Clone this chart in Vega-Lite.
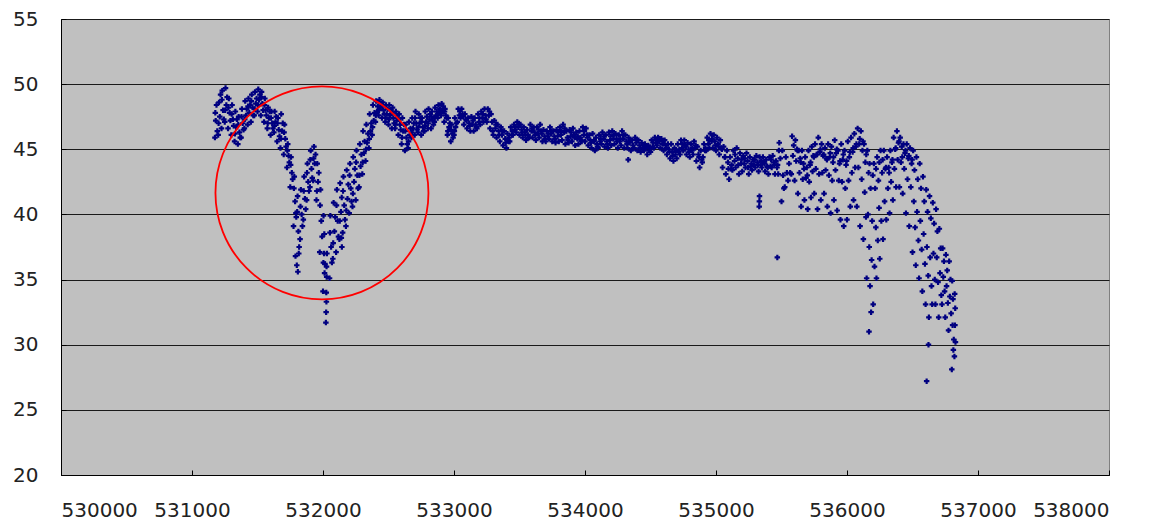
{
"$schema":"https://vega.github.io/schema/vega-lite/v6.json",
"autosize":{"type":"none"},
"padding":{"left":61,"top":19,"right":48,"bottom":48},
"width":1048,
"height":456,
"background":"#ffffff",
"config":{"view":{"fill":"#C0C0C0","stroke":"#808080","strokeWidth":1},
"axis":{"labelFont":"DejaVu Sans","labelFontSize":20,"labelColor":"#222222","domainColor":"#000000","domainWidth":1,"tickColor":"#000000","title":null}},
"datasets":{"pts":[
{"x":531175,"y":45.9},{"x":531181,"y":47.2},{"x":531187,"y":48.4},{"x":531193,"y":46.4},
{"x":531200,"y":46.1},{"x":531206,"y":48.6},{"x":531212,"y":47.5},{"x":531218,"y":49.2},
{"x":531225,"y":46.6},{"x":531231,"y":49.5},{"x":531237,"y":48.0},{"x":531243,"y":47.3},
{"x":531250,"y":47.1},{"x":531256,"y":49.7},{"x":531262,"y":48.4},{"x":531268,"y":49.0},
{"x":531275,"y":46.6},{"x":531281,"y":48.9},{"x":531287,"y":47.8},{"x":531293,"y":47.2},
{"x":531300,"y":46.1},{"x":531306,"y":48.4},{"x":531312,"y":47.3},{"x":531318,"y":46.8},
{"x":531325,"y":45.6},{"x":531331,"y":47.9},{"x":531337,"y":46.7},{"x":531343,"y":47.3},
{"x":531350,"y":45.4},{"x":531356,"y":47.5},{"x":531362,"y":46.3},{"x":531368,"y":45.9},
{"x":531375,"y":45.9},{"x":531381,"y":48.1},{"x":531387,"y":47.0},{"x":531393,"y":46.5},
{"x":531400,"y":46.6},{"x":531406,"y":48.7},{"x":531412,"y":47.6},{"x":531418,"y":48.1},
{"x":531425,"y":46.9},{"x":531431,"y":48.9},{"x":531437,"y":47.8},{"x":531443,"y":48.4},
{"x":531450,"y":47.1},{"x":531456,"y":49.2},{"x":531462,"y":48.2},{"x":531468,"y":47.6},
{"x":531475,"y":47.6},{"x":531481,"y":49.4},{"x":531487,"y":48.5},{"x":531493,"y":48.9},
{"x":531500,"y":47.9},{"x":531506,"y":49.6},{"x":531512,"y":48.8},{"x":531518,"y":49.2},
{"x":531525,"y":47.6},{"x":531531,"y":49.4},{"x":531537,"y":48.5},{"x":531543,"y":48.0},
{"x":531550,"y":47.1},{"x":531556,"y":48.9},{"x":531562,"y":48.0},{"x":531568,"y":47.6},
{"x":531575,"y":46.6},{"x":531581,"y":48.2},{"x":531587,"y":47.4},{"x":531593,"y":47.9},
{"x":531600,"y":46.1},{"x":531606,"y":47.9},{"x":531612,"y":47.0},{"x":531618,"y":46.6},
{"x":531625,"y":46.3},{"x":531631,"y":47.9},{"x":531637,"y":47.1},{"x":531643,"y":47.5},
{"x":531650,"y":45.6},{"x":531656,"y":47.4},{"x":531662,"y":46.5},{"x":531668,"y":46.0},
{"x":531675,"y":45.1},{"x":531681,"y":47.7},{"x":531687,"y":46.4},{"x":531693,"y":47.0},
{"x":531700,"y":44.6},{"x":531706,"y":46.9},{"x":531712,"y":45.8},{"x":531718,"y":45.2},
{"x":531725,"y":43.6},{"x":531731,"y":45.4},{"x":531737,"y":44.5},{"x":531743,"y":44.0},
{"x":531750,"y":42.1},{"x":531756,"y":44.4},{"x":531762,"y":43.2},{"x":531768,"y":42.7},
{"x":531775,"y":39.1},{"x":531781,"y":42.9},{"x":531787,"y":41.0},{"x":531793,"y":40.1},
{"x":531800,"y":36.1},{"x":531806,"y":41.4},{"x":531812,"y":38.7},{"x":531818,"y":37.5},
{"x":531790,"y":36.8},{"x":531796,"y":39.8},{"x":531808,"y":35.6},{"x":531815,"y":37.0},
{"x":531825,"y":38.1},{"x":531831,"y":41.9},{"x":531837,"y":40.0},{"x":531843,"y":39.1},
{"x":531850,"y":39.6},{"x":531856,"y":42.9},{"x":531862,"y":41.2},{"x":531868,"y":40.4},
{"x":531875,"y":41.1},{"x":531881,"y":43.9},{"x":531887,"y":42.5},{"x":531893,"y":41.8},
{"x":531900,"y":42.1},{"x":531906,"y":44.9},{"x":531912,"y":43.5},{"x":531918,"y":42.8},
{"x":531925,"y":42.6},{"x":531931,"y":45.2},{"x":531937,"y":43.9},{"x":531943,"y":44.6},
{"x":531950,"y":41.1},{"x":531956,"y":43.9},{"x":531962,"y":42.5},{"x":531968,"y":43.2},
{"x":531975,"y":37.1},{"x":531981,"y":41.9},{"x":531987,"y":39.5},{"x":531993,"y":38.3},
{"x":532000,"y":34.1},{"x":532004,"y":39.9},{"x":532008,"y":37.0},{"x":532012,"y":35.5},{"x":532010,"y":38.5},{"x":532015,"y":36.2},
{"x":532022,"y":31.7},{"x":532024,"y":32.5},{"x":532026,"y":33.3},{"x":532025,"y":34.0},{"x":532028,"y":35.2},{"x":532027,"y":36.0},{"x":532030,"y":37.0},
{"x":532050,"y":35.1},{"x":532056,"y":39.9},{"x":532062,"y":37.5},{"x":532068,"y":36.3},
{"x":532075,"y":36.6},{"x":532081,"y":40.9},{"x":532087,"y":38.7},{"x":532093,"y":39.8},
{"x":532100,"y":37.1},{"x":532106,"y":41.9},{"x":532112,"y":39.5},{"x":532118,"y":38.3},
{"x":532140,"y":38.2},{"x":532144,"y":37.5},
{"x":532125,"y":38.1},{"x":532131,"y":42.4},{"x":532137,"y":40.2},{"x":532143,"y":41.3},
{"x":532150,"y":38.6},{"x":532156,"y":42.9},{"x":532162,"y":40.7},{"x":532168,"y":39.6},
{"x":532175,"y":39.1},{"x":532181,"y":43.4},{"x":532187,"y":41.2},{"x":532193,"y":42.3},
{"x":532200,"y":40.1},{"x":532206,"y":43.9},{"x":532212,"y":42.0},{"x":532218,"y":41.0},
{"x":532225,"y":40.6},{"x":532231,"y":44.4},{"x":532237,"y":42.5},{"x":532243,"y":43.5},
{"x":532250,"y":41.1},{"x":532256,"y":44.9},{"x":532262,"y":43.0},{"x":532268,"y":42.0},
{"x":532275,"y":42.1},{"x":532281,"y":45.4},{"x":532287,"y":43.7},{"x":532293,"y":44.6},
{"x":532300,"y":43.1},{"x":532306,"y":46.4},{"x":532312,"y":44.7},{"x":532318,"y":45.6},
{"x":532325,"y":44.1},{"x":532331,"y":46.9},{"x":532337,"y":45.5},{"x":532343,"y":46.2},
{"x":532350,"y":45.1},{"x":532356,"y":47.7},{"x":532362,"y":46.4},{"x":532368,"y":47.0},
{"x":532375,"y":46.1},{"x":532381,"y":48.4},{"x":532387,"y":47.2},{"x":532393,"y":47.8},
{"x":532400,"y":47.1},{"x":532406,"y":48.7},{"x":532412,"y":47.9},{"x":532418,"y":48.3},
{"x":532425,"y":47.6},{"x":532431,"y":48.8},{"x":532437,"y":48.2},{"x":532443,"y":48.5},
{"x":532450,"y":47.4},{"x":532456,"y":48.6},{"x":532462,"y":48.0},{"x":532468,"y":47.7},
{"x":532475,"y":47.1},{"x":532481,"y":48.4},{"x":532487,"y":47.7},{"x":532493,"y":48.1},
{"x":532500,"y":46.9},{"x":532506,"y":48.4},{"x":532512,"y":47.6},{"x":532518,"y":48.0},
{"x":532525,"y":46.6},{"x":532531,"y":48.2},{"x":532537,"y":47.4},{"x":532543,"y":47.0},
{"x":532550,"y":46.6},{"x":532556,"y":47.9},{"x":532562,"y":47.2},{"x":532568,"y":47.6},
{"x":532575,"y":46.1},{"x":532581,"y":47.7},{"x":532587,"y":46.9},{"x":532593,"y":46.5},
{"x":532600,"y":45.4},{"x":532606,"y":47.4},{"x":532612,"y":46.4},{"x":532618,"y":46.9},
{"x":532625,"y":44.9},{"x":532631,"y":46.9},{"x":532637,"y":45.9},{"x":532643,"y":45.4},
{"x":532650,"y":45.1},{"x":532656,"y":47.1},{"x":532662,"y":46.1},{"x":532668,"y":46.6},
{"x":532675,"y":45.9},{"x":532681,"y":47.4},{"x":532687,"y":46.6},{"x":532693,"y":47.0},
{"x":532700,"y":46.1},{"x":532706,"y":47.9},{"x":532712,"y":47.0},{"x":532718,"y":46.5},
{"x":532725,"y":46.3},{"x":532731,"y":47.7},{"x":532737,"y":47.0},{"x":532743,"y":47.4},
{"x":532750,"y":46.1},{"x":532756,"y":47.4},{"x":532762,"y":46.7},{"x":532768,"y":46.4},
{"x":532775,"y":46.4},{"x":532781,"y":47.9},{"x":532787,"y":47.1},{"x":532793,"y":47.5},
{"x":532800,"y":46.6},{"x":532806,"y":48.1},{"x":532812,"y":47.3},{"x":532818,"y":47.7},
{"x":532825,"y":46.6},{"x":532831,"y":47.9},{"x":532837,"y":47.2},{"x":532843,"y":46.9},
{"x":532850,"y":47.1},{"x":532856,"y":48.2},{"x":532862,"y":47.6},{"x":532868,"y":47.9},
{"x":532875,"y":47.4},{"x":532881,"y":48.4},{"x":532887,"y":47.9},{"x":532893,"y":48.1},
{"x":532900,"y":47.6},{"x":532906,"y":48.5},{"x":532912,"y":48.0},{"x":532918,"y":48.3},
{"x":532925,"y":47.1},{"x":532931,"y":48.1},{"x":532937,"y":47.6},{"x":532943,"y":47.4},
{"x":532950,"y":46.1},{"x":532956,"y":47.4},{"x":532962,"y":46.7},{"x":532968,"y":47.0},
{"x":532975,"y":45.6},{"x":532981,"y":46.9},{"x":532987,"y":46.2},{"x":532993,"y":45.9},
{"x":533000,"y":46.1},{"x":533006,"y":47.4},{"x":533012,"y":46.7},{"x":533018,"y":47.0},
{"x":531178,"y":47.8},{"x":531203,"y":47.0},{"x":531228,"y":48.8},{"x":531253,"y":48.0},{"x":531278,"y":48.2},{"x":531303,"y":47.7},{"x":531328,"y":46.2},{"x":531353,"y":46.9},{"x":531378,"y":47.5},{"x":531403,"y":47.3},
{"x":531428,"y":48.3},{"x":531453,"y":48.7},{"x":531478,"y":48.1},{"x":531503,"y":48.4},{"x":531528,"y":49.0},{"x":531553,"y":48.4},{"x":531578,"y":47.0},{"x":531603,"y":47.4},{"x":531628,"y":46.8},{"x":531653,"y":47.0},
{"x":531678,"y":45.8},{"x":531703,"y":46.3},{"x":531728,"y":44.9},{"x":531753,"y":43.8},{"x":531778,"y":42.0},{"x":531803,"y":40.2},{"x":531828,"y":40.6},{"x":531853,"y":41.8},{"x":531878,"y":43.2},{"x":531903,"y":44.2},
{"x":531928,"y":44.3},{"x":531953,"y":41.8},{"x":531978,"y":40.7},{"x":532003,"y":36.3},{"x":532053,"y":38.6},{"x":532078,"y":37.8},{"x":532103,"y":40.7},{"x":532128,"y":39.5},{"x":532153,"y":41.8},{"x":532178,"y":40.3},
{"x":532203,"y":43.0},{"x":532228,"y":41.6},{"x":532253,"y":44.0},{"x":532278,"y":43.0},{"x":532303,"y":44.0},{"x":532328,"y":45.0},{"x":532353,"y":45.8},{"x":532378,"y":46.7},{"x":532403,"y":47.6},{"x":532428,"y":48.0},
{"x":532453,"y":48.3},{"x":532478,"y":47.4},{"x":532503,"y":47.3},{"x":532528,"y":47.8},{"x":532553,"y":46.9},{"x":532578,"y":47.3},{"x":532603,"y":45.9},{"x":532628,"y":46.4},{"x":532653,"y":45.6},{"x":532678,"y":46.3},
{"x":532703,"y":47.4},{"x":532728,"y":46.7},{"x":532753,"y":47.1},{"x":532778,"y":46.8},{"x":532803,"y":47.0},{"x":532828,"y":47.5},{"x":532853,"y":47.4},{"x":532878,"y":47.7},{"x":532903,"y":47.8},{"x":532928,"y":47.9},
{"x":532953,"y":46.4},{"x":532978,"y":46.5},{"x":533003,"y":46.4},
{"x":533025,"y":47.1},{"x":533033,"y":48.1},{"x":533041,"y":47.6},
{"x":533050,"y":47.4},{"x":533058,"y":48.1},{"x":533066,"y":47.7},
{"x":533075,"y":46.9},{"x":533083,"y":47.7},{"x":533091,"y":47.3},
{"x":533100,"y":46.6},{"x":533108,"y":47.4},{"x":533116,"y":47.0},
{"x":533125,"y":46.4},{"x":533133,"y":47.5},{"x":533141,"y":46.9},
{"x":533150,"y":46.4},{"x":533158,"y":47.4},{"x":533166,"y":46.9},
{"x":533175,"y":46.6},{"x":533183,"y":47.7},{"x":533191,"y":47.1},
{"x":533200,"y":46.9},{"x":533208,"y":47.9},{"x":533216,"y":47.4},
{"x":533225,"y":47.1},{"x":533233,"y":48.1},{"x":533241,"y":47.6},
{"x":533250,"y":47.1},{"x":533258,"y":48.1},{"x":533266,"y":47.6},
{"x":533275,"y":46.6},{"x":533283,"y":47.7},{"x":533291,"y":47.1},
{"x":533300,"y":46.1},{"x":533308,"y":47.2},{"x":533316,"y":46.6},
{"x":533325,"y":45.9},{"x":533333,"y":46.9},{"x":533341,"y":46.4},
{"x":533350,"y":45.6},{"x":533358,"y":46.7},{"x":533366,"y":46.1},
{"x":533375,"y":45.3},{"x":533383,"y":46.4},{"x":533391,"y":45.8},
{"x":533400,"y":45.1},{"x":533408,"y":46.2},{"x":533416,"y":45.6},
{"x":533425,"y":45.6},{"x":533433,"y":46.7},{"x":533441,"y":46.1},
{"x":533450,"y":46.1},{"x":533458,"y":46.9},{"x":533466,"y":46.5},
{"x":533475,"y":46.3},{"x":533483,"y":47.1},{"x":533491,"y":46.7},
{"x":533500,"y":46.1},{"x":533508,"y":46.9},{"x":533516,"y":46.5},
{"x":533525,"y":45.9},{"x":533533,"y":46.7},{"x":533541,"y":46.3},
{"x":533550,"y":45.7},{"x":533558,"y":46.5},{"x":533566,"y":46.1},
{"x":533575,"y":45.9},{"x":533583,"y":46.9},{"x":533591,"y":46.4},
{"x":533600,"y":45.9},{"x":533608,"y":46.7},{"x":533616,"y":46.3},
{"x":533625,"y":45.7},{"x":533633,"y":46.7},{"x":533641,"y":46.2},
{"x":533650,"y":45.9},{"x":533658,"y":46.9},{"x":533666,"y":46.4},
{"x":533675,"y":45.6},{"x":533683,"y":46.5},{"x":533691,"y":46.0},
{"x":533700,"y":45.6},{"x":533708,"y":46.4},{"x":533716,"y":46.0},
{"x":533725,"y":45.8},{"x":533733,"y":46.7},{"x":533741,"y":46.2},
{"x":533750,"y":45.6},{"x":533758,"y":46.4},{"x":533766,"y":46.0},
{"x":533775,"y":45.5},{"x":533783,"y":46.5},{"x":533791,"y":46.0},
{"x":533800,"y":45.6},{"x":533808,"y":46.7},{"x":533816,"y":46.1},
{"x":533825,"y":45.7},{"x":533833,"y":46.9},{"x":533841,"y":46.3},
{"x":533850,"y":45.4},{"x":533858,"y":46.4},{"x":533866,"y":45.9},
{"x":533875,"y":45.5},{"x":533883,"y":46.5},{"x":533891,"y":46.0},
{"x":533900,"y":45.6},{"x":533908,"y":46.6},{"x":533916,"y":46.1},
{"x":533925,"y":45.3},{"x":533933,"y":46.3},{"x":533941,"y":45.8},
{"x":533950,"y":45.4},{"x":533958,"y":46.4},{"x":533966,"y":45.9},
{"x":533975,"y":45.6},{"x":533983,"y":46.7},{"x":533991,"y":46.1},
{"x":534000,"y":45.6},{"x":534008,"y":46.6},{"x":534016,"y":46.1},
{"x":534025,"y":45.3},{"x":534033,"y":46.1},{"x":534041,"y":45.7},
{"x":534050,"y":45.1},{"x":534058,"y":46.2},{"x":534066,"y":45.6},
{"x":534075,"y":44.9},{"x":534083,"y":45.9},{"x":534091,"y":45.4},
{"x":534100,"y":45.1},{"x":534108,"y":46.1},{"x":534116,"y":45.6},
{"x":534125,"y":45.4},{"x":534133,"y":46.3},{"x":534141,"y":45.8},
{"x":534150,"y":45.2},{"x":534158,"y":46.1},{"x":534166,"y":45.6},
{"x":534175,"y":45.1},{"x":534183,"y":46.3},{"x":534191,"y":45.7},
{"x":534200,"y":45.3},{"x":534208,"y":46.4},{"x":534216,"y":45.8},
{"x":534225,"y":45.4},{"x":534233,"y":46.2},{"x":534241,"y":45.8},
{"x":534250,"y":45.1},{"x":534258,"y":46.1},{"x":534266,"y":45.6},
{"x":534275,"y":45.3},{"x":534283,"y":46.4},{"x":534291,"y":45.8},
{"x":534300,"y":45.1},{"x":534308,"y":46.1},{"x":534316,"y":45.6},
{"x":534325,"y":45.1},{"x":534333,"y":45.9},{"x":534341,"y":45.5},{"x":534330,"y":44.2},
{"x":534350,"y":44.9},{"x":534358,"y":45.7},{"x":534366,"y":45.3},
{"x":534375,"y":45.1},{"x":534383,"y":45.9},{"x":534391,"y":45.5},
{"x":534400,"y":44.9},{"x":534408,"y":45.7},{"x":534416,"y":45.3},
{"x":534425,"y":44.8},{"x":534433,"y":45.5},{"x":534441,"y":45.1},
{"x":534450,"y":44.9},{"x":534458,"y":45.4},{"x":534466,"y":45.1},
{"x":534475,"y":44.6},{"x":534483,"y":45.3},{"x":534491,"y":44.9},
{"x":534500,"y":44.8},{"x":534508,"y":45.7},{"x":534516,"y":45.2},
{"x":534525,"y":45.1},{"x":534533,"y":45.9},{"x":534541,"y":45.5},
{"x":534550,"y":45.3},{"x":534558,"y":45.9},{"x":534566,"y":45.6},
{"x":534575,"y":45.1},{"x":534583,"y":45.8},{"x":534591,"y":45.4},
{"x":534600,"y":44.9},{"x":534608,"y":45.7},{"x":534616,"y":45.3},
{"x":534625,"y":44.6},{"x":534633,"y":45.4},{"x":534641,"y":45.0},
{"x":534650,"y":44.3},{"x":534658,"y":45.4},{"x":534666,"y":44.8},
{"x":534675,"y":44.1},{"x":534683,"y":45.1},{"x":534691,"y":44.6},
{"x":534700,"y":44.3},{"x":534708,"y":45.4},{"x":534716,"y":44.8},
{"x":534725,"y":44.6},{"x":534733,"y":45.7},{"x":534741,"y":45.1},
{"x":534750,"y":44.9},{"x":534758,"y":45.7},{"x":534766,"y":45.3},
{"x":534775,"y":44.6},{"x":534783,"y":45.5},{"x":534791,"y":45.0},
{"x":534800,"y":44.4},{"x":534808,"y":45.4},{"x":534816,"y":44.9},
{"x":534825,"y":44.6},{"x":534833,"y":45.6},{"x":534841,"y":45.1},
{"x":534850,"y":44.1},{"x":534858,"y":45.2},{"x":534866,"y":44.6},
{"x":534875,"y":43.6},{"x":534883,"y":44.9},{"x":534891,"y":44.2},
{"x":534900,"y":44.4},{"x":534908,"y":45.4},{"x":534916,"y":44.9},
{"x":534925,"y":44.9},{"x":534933,"y":45.9},{"x":534941,"y":45.4},
{"x":534950,"y":45.1},{"x":534958,"y":46.2},{"x":534966,"y":45.6},
{"x":534975,"y":45.1},{"x":534983,"y":46.1},{"x":534991,"y":45.6},
{"x":535000,"y":44.9},{"x":535008,"y":45.9},{"x":535016,"y":45.4},
{"x":535025,"y":44.6},{"x":535033,"y":45.7},{"x":535041,"y":45.1},
{"x":535050,"y":43.6},{"x":535058,"y":45.2},{"x":535066,"y":44.4},
{"x":535075,"y":43.1},{"x":535083,"y":44.9},{"x":535091,"y":44.0},
{"x":535100,"y":42.7},{"x":535108,"y":44.4},{"x":535116,"y":43.5},
{"x":535125,"y":43.4},{"x":535133,"y":44.9},{"x":535141,"y":44.1},
{"x":535150,"y":43.6},{"x":535158,"y":45.1},{"x":535166,"y":44.3},
{"x":535175,"y":43.1},{"x":535183,"y":44.7},{"x":535191,"y":43.9},
{"x":535200,"y":43.3},{"x":535208,"y":44.5},{"x":535216,"y":43.9},
{"x":535225,"y":43.6},{"x":535233,"y":44.7},{"x":535241,"y":44.1},
{"x":535250,"y":43.1},{"x":535258,"y":44.4},{"x":535266,"y":43.7},
{"x":535275,"y":43.4},{"x":535283,"y":44.2},{"x":535291,"y":43.8},
{"x":535300,"y":43.6},{"x":535308,"y":44.5},{"x":535316,"y":44.0},
{"x":535325,"y":43.3},{"x":535333,"y":44.4},{"x":535341,"y":43.8},
{"x":535330,"y":40.6},{"x":535331,"y":41.0},{"x":535332,"y":41.4},
{"x":535350,"y":43.6},{"x":535358,"y":44.4},{"x":535366,"y":44.0},
{"x":535375,"y":43.3},{"x":535383,"y":44.2},{"x":535391,"y":43.7},
{"x":535400,"y":43.1},{"x":535408,"y":44.4},{"x":535416,"y":43.7},
{"x":535425,"y":43.6},{"x":535433,"y":44.5},{"x":535441,"y":44.0},
{"x":535450,"y":43.1},{"x":535458,"y":44.1},{"x":535466,"y":43.6},
{"x":535475,"y":43.1},{"x":535483,"y":45.5},{"x":535491,"y":44.3},{"x":535480,"y":44.9},{"x":535468,"y":36.7},
{"x":533045,"y":47.9},{"x":533070,"y":47.5},{"x":533095,"y":47.2},{"x":533120,"y":46.8},{"x":533145,"y":47.2},{"x":533170,"y":46.7},{"x":533195,"y":47.4},{"x":533220,"y":47.7},{"x":533245,"y":47.3},{"x":533270,"y":47.9},
{"x":533295,"y":46.4},{"x":533320,"y":46.9},{"x":533345,"y":46.1},{"x":533370,"y":46.4},{"x":533395,"y":45.5},{"x":533420,"y":45.9},{"x":533445,"y":46.4},{"x":533470,"y":46.7},{"x":533495,"y":46.9},{"x":533520,"y":46.3},
{"x":533545,"y":46.1},{"x":533570,"y":45.9},{"x":533595,"y":46.6},{"x":533620,"y":46.1},{"x":533645,"y":46.5},{"x":533670,"y":46.2},{"x":533695,"y":45.8},{"x":533720,"y":46.2},{"x":533745,"y":46.4},{"x":533770,"y":45.8},
{"x":533795,"y":46.3},{"x":533820,"y":46.4},{"x":533845,"y":46.6},{"x":533870,"y":45.7},{"x":533895,"y":46.3},{"x":533920,"y":45.9},{"x":533945,"y":46.0},{"x":533970,"y":45.7},{"x":533995,"y":46.4},{"x":534020,"y":45.9},
{"x":534045,"y":45.5},{"x":534070,"y":45.7},{"x":534095,"y":45.2},{"x":534120,"y":45.8},{"x":534145,"y":46.0},{"x":534170,"y":45.4},{"x":534195,"y":46.0},{"x":534220,"y":46.1},{"x":534245,"y":45.6},{"x":534270,"y":45.8},
{"x":534295,"y":46.1},{"x":534320,"y":45.4},{"x":534345,"y":45.7},{"x":534370,"y":45.1},{"x":534395,"y":45.7},{"x":534420,"y":45.1},{"x":534445,"y":45.3},{"x":534470,"y":45.2},{"x":534495,"y":45.1},{"x":534520,"y":45.5},
{"x":534545,"y":45.7},{"x":534570,"y":45.8},{"x":534595,"y":45.6},{"x":534620,"y":45.1},{"x":534645,"y":44.8},{"x":534670,"y":44.5},{"x":534695,"y":44.9},{"x":534720,"y":45.0},{"x":534745,"y":45.4},{"x":534770,"y":45.2},
{"x":534795,"y":44.8},{"x":534820,"y":45.1},{"x":534845,"y":45.3},{"x":534870,"y":44.4},{"x":534895,"y":44.0},{"x":534920,"y":45.1},{"x":534945,"y":45.7},{"x":534970,"y":45.8},{"x":534995,"y":45.3},{"x":535020,"y":45.2},
{"x":535045,"y":45.0},{"x":535070,"y":44.4},{"x":535095,"y":43.5},{"x":535120,"y":43.8},{"x":535145,"y":44.6},{"x":535170,"y":43.8},{"x":535195,"y":44.2},{"x":535220,"y":44.3},{"x":535245,"y":43.6},{"x":535270,"y":43.9},
{"x":535295,"y":44.2},{"x":535320,"y":43.8},{"x":535345,"y":44.1},{"x":535370,"y":43.9},{"x":535395,"y":43.6},{"x":535420,"y":44.2},{"x":535445,"y":43.8},{"x":535470,"y":43.8},
{"x":535500,"y":41.0},{"x":535506,"y":44.9},{"x":535512,"y":43.0},{"x":535518,"y":42.0},
{"x":535525,"y":42.1},{"x":535533,"y":44.4},{"x":535541,"y":43.2},
{"x":535550,"y":42.6},{"x":535558,"y":43.9},{"x":535566,"y":43.2},
{"x":535575,"y":43.1},{"x":535581,"y":46.0},{"x":535587,"y":44.5},{"x":535593,"y":45.3},
{"x":535600,"y":42.6},{"x":535606,"y":45.7},{"x":535612,"y":44.1},{"x":535618,"y":45.0},
{"x":535625,"y":41.6},{"x":535631,"y":44.9},{"x":535637,"y":43.2},{"x":535643,"y":44.3},
{"x":535650,"y":40.6},{"x":535656,"y":44.9},{"x":535662,"y":42.7},{"x":535668,"y":43.9},
{"x":535675,"y":41.1},{"x":535681,"y":44.4},{"x":535687,"y":42.8},{"x":535693,"y":43.6},
{"x":535700,"y":40.4},{"x":535706,"y":44.9},{"x":535712,"y":42.5},{"x":535718,"y":43.8},
{"x":535725,"y":41.3},{"x":535731,"y":45.2},{"x":535737,"y":43.3},{"x":535743,"y":44.5},
{"x":535750,"y":41.6},{"x":535756,"y":45.4},{"x":535762,"y":43.5},{"x":535768,"y":44.6},
{"x":535775,"y":40.4},{"x":535781,"y":45.9},{"x":535787,"y":43.1},{"x":535793,"y":44.8},
{"x":535800,"y":41.1},{"x":535806,"y":45.4},{"x":535812,"y":43.2},{"x":535818,"y":44.5},
{"x":535825,"y":41.6},{"x":535831,"y":45.1},{"x":535837,"y":43.4},{"x":535843,"y":44.3},
{"x":535850,"y":40.6},{"x":535856,"y":45.4},{"x":535862,"y":43.0},{"x":535868,"y":44.4},
{"x":535875,"y":40.1},{"x":535881,"y":45.2},{"x":535887,"y":42.6},{"x":535893,"y":44.0},
{"x":535900,"y":41.1},{"x":535906,"y":45.7},{"x":535912,"y":43.4},{"x":535918,"y":44.7},
{"x":535925,"y":40.3},{"x":535931,"y":44.9},{"x":535937,"y":42.6},{"x":535943,"y":43.9},
{"x":535950,"y":39.6},{"x":535956,"y":45.4},{"x":535962,"y":42.5},{"x":535968,"y":44.2},
{"x":535975,"y":39.1},{"x":535981,"y":44.9},{"x":535987,"y":42.0},{"x":535993,"y":43.8},
{"x":536000,"y":39.6},{"x":536006,"y":45.6},{"x":536012,"y":42.6},{"x":536018,"y":44.4},
{"x":536025,"y":40.6},{"x":536031,"y":45.9},{"x":536037,"y":43.2},{"x":536043,"y":44.8},
{"x":536050,"y":41.1},{"x":536056,"y":46.2},{"x":536062,"y":43.6},{"x":536068,"y":45.2},
{"x":536075,"y":40.6},{"x":536081,"y":46.6},{"x":536087,"y":43.6},{"x":536093,"y":45.4},
{"x":536100,"y":39.1},{"x":536106,"y":46.4},{"x":536112,"y":42.7},{"x":536118,"y":44.9},
{"x":536125,"y":38.1},{"x":536130,"y":45.4},{"x":536135,"y":41.7},{"x":536140,"y":44.0},{"x":536145,"y":39.8},
{"x":536150,"y":35.1},{"x":536155,"y":44.9},{"x":536160,"y":40.0},{"x":536165,"y":43.2},{"x":536170,"y":37.5},
{"x":536168,"y":31.0},{"x":536172,"y":43.9},{"x":536176,"y":34.5},{"x":536180,"y":42.0},{"x":536184,"y":32.5},{"x":536188,"y":36.5},{"x":536192,"y":39.5},
{"x":536200,"y":33.1},{"x":536205,"y":43.9},{"x":536210,"y":36.0},{"x":536215,"y":42.0},{"x":536220,"y":39.0},
{"x":536225,"y":35.1},{"x":536230,"y":44.4},{"x":536235,"y":38.0},{"x":536240,"y":42.6},{"x":536245,"y":40.5},
{"x":536250,"y":36.6},{"x":536256,"y":44.9},{"x":536262,"y":39.5},{"x":536268,"y":43.2},
{"x":536275,"y":38.1},{"x":536281,"y":44.9},{"x":536287,"y":41.0},{"x":536293,"y":43.5},
{"x":536300,"y":39.6},{"x":536306,"y":44.4},{"x":536312,"y":42.0},{"x":536318,"y":43.6},
{"x":536325,"y":40.1},{"x":536331,"y":44.9},{"x":536337,"y":42.5},{"x":536343,"y":44.0},
{"x":536350,"y":41.1},{"x":536356,"y":45.9},{"x":536362,"y":43.5},{"x":536368,"y":45.0},
{"x":536375,"y":42.1},{"x":536381,"y":46.4},{"x":536387,"y":44.2},{"x":536393,"y":45.5},
{"x":536400,"y":42.1},{"x":536406,"y":45.9},{"x":536412,"y":44.0},{"x":536418,"y":45.2},
{"x":536425,"y":41.6},{"x":536431,"y":45.4},{"x":536437,"y":43.5},{"x":536443,"y":44.7},
{"x":536450,"y":40.1},{"x":536456,"y":45.4},{"x":536462,"y":42.7},{"x":536468,"y":44.3},
{"x":536475,"y":39.1},{"x":536481,"y":45.1},{"x":536487,"y":42.1},{"x":536493,"y":43.9},
{"x":535622,"y":44.9},{"x":535647,"y":44.0},{"x":535672,"y":43.5},{"x":535697,"y":43.0},{"x":535722,"y":44.0},{"x":535747,"y":44.4},{"x":535772,"y":44.6},{"x":535797,"y":45.0},{"x":535822,"y":44.6},{"x":535847,"y":44.2},
{"x":535872,"y":44.7},{"x":535897,"y":44.4},{"x":535922,"y":45.0},{"x":535947,"y":44.1},{"x":535972,"y":44.6},{"x":535997,"y":44.1},{"x":536022,"y":44.8},{"x":536047,"y":45.1},{"x":536072,"y":45.4},{"x":536097,"y":45.8},
{"x":536122,"y":45.6},{"x":536147,"y":44.6},{"x":536197,"y":43.0},{"x":536222,"y":43.5},{"x":536247,"y":44.0},{"x":536272,"y":44.2},{"x":536297,"y":43.6},{"x":536322,"y":43.2},{"x":536347,"y":44.2},{"x":536372,"y":45.1},
{"x":536397,"y":45.6},{"x":536422,"y":44.4},{"x":536447,"y":44.9},{"x":536472,"y":44.5},{"x":536497,"y":44.2},
{"x":536500,"y":37.1},{"x":536505,"y":44.9},{"x":536510,"y":41.0},{"x":536515,"y":43.4},{"x":536520,"y":39.0},
{"x":536525,"y":36.1},{"x":536530,"y":44.4},{"x":536535,"y":40.2},{"x":536540,"y":42.7},{"x":536545,"y":38.0},
{"x":536550,"y":35.1},{"x":536555,"y":43.9},{"x":536560,"y":39.5},{"x":536565,"y":42.0},{"x":536570,"y":37.3},
{"x":536575,"y":34.1},{"x":536580,"y":42.9},{"x":536585,"y":38.5},{"x":536590,"y":41.0},{"x":536595,"y":36.2},
{"x":536600,"y":33.1},{"x":536605,"y":41.9},{"x":536610,"y":37.5},{"x":536615,"y":40.2},{"x":536620,"y":35.3},
{"x":536625,"y":32.1},{"x":536630,"y":41.4},{"x":536635,"y":36.7},{"x":536640,"y":39.7},{"x":536645,"y":34.5},
{"x":536608,"y":27.2},{"x":536622,"y":30.0},
{"x":536650,"y":33.1},{"x":536655,"y":40.9},{"x":536660,"y":37.0},{"x":536665,"y":39.3},{"x":536670,"y":35.0},
{"x":536675,"y":33.1},{"x":536680,"y":40.4},{"x":536685,"y":36.7},{"x":536690,"y":38.7},{"x":536695,"y":34.8},
{"x":536700,"y":32.1},{"x":536705,"y":38.9},{"x":536710,"y":35.5},{"x":536715,"y":37.4},{"x":536720,"y":33.8},
{"x":536725,"y":33.1},{"x":536730,"y":37.4},{"x":536735,"y":35.2},{"x":536740,"y":36.4},{"x":536745,"y":34.1},
{"x":536750,"y":32.1},{"x":536755,"y":36.9},{"x":536760,"y":34.5},{"x":536765,"y":35.7},{"x":536770,"y":33.2},
{"x":536775,"y":31.1},{"x":536780,"y":36.4},{"x":536785,"y":33.7},{"x":536790,"y":35.0},{"x":536795,"y":32.4},
{"x":536800,"y":28.1},{"x":536803,"y":34.9},{"x":536806,"y":31.5},{"x":536809,"y":33.5},{"x":536812,"y":29.6},{"x":536815,"y":30.4},
{"x":536820,"y":29.1},{"x":536822,"y":33.9},{"x":536824,"y":31.5},{"x":536826,"y":32.8},{"x":536828,"y":30.2}
],
"ring":[{"x":531992,"y":41.65}]},
"layer":[
{"data":{"name":"pts"},
"mark":{"type":"point","shape":"cross","filled":true,"size":30,"color":"#000080","opacity":1},
"encoding":{
"x":{"field":"x","type":"quantitative","scale":{"domain":[530000,538000],"nice":false,"zero":false},
"axis":{"values":[530000,531000,532000,533000,534000,535000,536000,537000,538000],"format":"d","grid":false,"tickSize":-5,"labelPadding":30,"domain":true}},
"y":{"field":"y","type":"quantitative","scale":{"domain":[20,55],"nice":false,"zero":false},
"axis":{"values":[20,25,30,35,40,45,50,55],"grid":true,"gridColor":"#1a1a1a","gridWidth":1.2,"tickSize":-5,"labelPadding":28,"domain":true}}}},
{"data":{"name":"ring"},
"mark":{"type":"point","shape":"circle","filled":false,"size":45369,"stroke":"#FF0000","strokeWidth":1.8,"opacity":1},
"encoding":{"x":{"field":"x","type":"quantitative"},"y":{"field":"y","type":"quantitative"}}}
]
}
